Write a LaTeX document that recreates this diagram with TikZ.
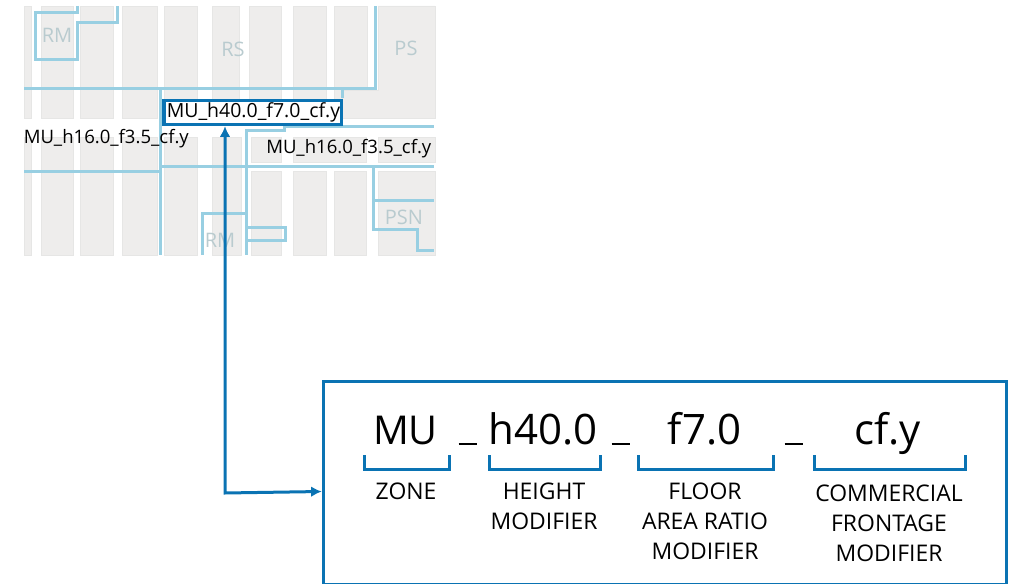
\documentclass[tikz,border=0pt]{standalone}
\usepackage{fontspec}
\setmainfont{Open Sans}
\usetikzlibrary{arrows.meta}
\definecolor{blockgray}{HTML}{EEEDEC}
\definecolor{blockedge}{HTML}{E6E6E5}
\definecolor{zoneline}{HTML}{98CFE2}
\definecolor{zonetext}{HTML}{B9CBCF}
\definecolor{accent}{HTML}{0A73B3}
\tikzset{
  block/.style={fill=blockgray,draw=blockedge,line width=0.5pt},
  zone/.style={draw=zoneline,line width=2.25pt,line join=miter},
  zonelabel/.style={text=zonetext,font=\fontsize{15}{16}\selectfont,inner sep=0pt},
  maplabel/.style={text=black,font=\fontsize{13.9}{15}\selectfont,inner sep=0pt,anchor=west},
  bigtext/.style={text=black,font=\fontsize{31.5}{34}\selectfont,inner sep=0pt,anchor=base},
  sep/.style={draw=black,line width=1.2pt},
  caption/.style={text=black,font=\fontsize{17.2}{22.5}\selectfont,inner sep=0pt,align=center,anchor=north},
  brace/.style={draw=accent,line width=2.25pt},
  link/.style={draw=accent,line width=2.25pt},
  frame/.style={draw=accent,line width=2.25pt}
}
\begin{document}
\begin{tikzpicture}[x=0.75pt,y=-0.75pt]
\useasboundingbox (0,0) rectangle (1010,584);
% top row
\foreach \a/\b in {24/31,41/73,80/113,122/157,164/197,212/239,249/281,293/326,334/367}
  \path[block] (\a,6) rectangle (\b,118);
\path[block] (378,6) -- (435,6) -- (435,118) -- (342,118) -- (342,90) -- (378,90) -- cycle;
% lower row left
\foreach \a/\b in {24/31,41/73,80/113,122/157,164/197,212/241}
  \path[block] (\a,137) rectangle (\b,255);
% lower row right
\foreach \a/\b in {251/281,293/366,378/435}
  \path[block] (\a,137) rectangle (\b,162);
\foreach \a/\b in {251/281,293/326,334/366,378/435}
  \path[block] (\a,171) rectangle (\b,255);
% zone outlines
\draw[zone] (77,6) -- (77,13) -- (35,13) -- (35,60) -- (77,60) -- (77,23) -- (117,23) -- (117,6);
\draw[zone] (24,89) -- (375,89) -- (375,6);
\draw[zone] (160,89) -- (160,255);
\draw[zone] (342,89) -- (342,98);
\draw[zone] (24,171.5) -- (162,171.5);
\draw[zone] (160,167) -- (434,167);
\draw[zone] (246,255) -- (246,130.5) -- (284,130.5) -- (284,127) -- (434,127);
\draw[zone] (202,255) -- (202,214) -- (246,214);
\draw[zone] (246,228) -- (285.5,228) -- (285.5,241) -- (246,241);
\draw[zone] (373.5,167) -- (373.5,230) -- (417,230) -- (417,251) -- (434,251);
\draw[zone] (373.5,201) -- (434,201);
% zone labels
\node[zonelabel] (rm1) at (57,35) {RM};
\node[zonelabel] (rs) at (233,49) {RS};
\node[zonelabel] (ps) at (406,48) {PS};
\node[zonelabel] (psn) at (404,217) {PSN};
\node[zonelabel] (rm2) at (220,240) {RM};
% map labels
\node[maplabel] (left) at (23.5,138.5) {MU\_h16.0\_f3.5\_cf.y};
\node[maplabel] (right) at (266,148.5) {MU\_h16.0\_f3.5\_cf.y};
\node[draw=accent,line width=2.6pt,fill=white,minimum width=133pt,minimum height=18pt,inner sep=0pt,anchor=north west] (sel) at (162.2,98.7) {};
\node[maplabel,font=\fontsize{14.6}{15}\selectfont] (seltext) at (166.5,112.5) {MU\_h40.0\_f7.0\_cf.y};
% detail frame
\node[frame,minimum width=512.3pt,minimum height=152pt,inner sep=0pt,anchor=north west] (detail) at (321.8,380.3) {};
\coordinate (corner) at (225,493);
\draw[link,{Latex[length=8pt,width=8pt]}-{Latex[length=8pt,width=8pt]}] (sel.south -| corner) -- (corner) -- (detail.west |- 0,491.5);
% big row
\node[bigtext,font=\fontsize{29.8}{34}\selectfont] (mu) at (405.5,445) {MU};
\node[bigtext] (h) at (543,445) {h40.0};
\node[bigtext] (f) at (704.5,445) {f7.0};
\node[bigtext] (c) at (887.5,445) {cf.y};
\coordinate (s1a) at (458.5,444); \coordinate (s1b) at (476.5,444);
\coordinate (s2a) at (611.5,444); \coordinate (s2b) at (629.5,444);
\coordinate (s3a) at (784.5,444); \coordinate (s3b) at (802.5,444);
\draw[sep] (s1a) -- (s1b);
\draw[sep] (s2a) -- (s2b);
\draw[sep] (s3a) -- (s3b);
% braces
\draw[brace] (364,455) -- (364,469) -- (449,469) -- (449,455);
\draw[brace] (489,455) -- (489,469) -- (600,469) -- (600,455);
\draw[brace] (638,455) -- (638,469) -- (773,469) -- (773,455);
\draw[brace] (814,455) -- (814,469) -- (965,469) -- (965,455);
% captions
\node[caption] (c1) at (406,483) {ZONE};
\node[caption] (c2) at (544,483) {HEIGHT\\MODIFIER};
\node[caption] (c3) at (705,483) {FLOOR\\AREA RATIO\\MODIFIER};
\node[caption] (c4) at (889,485) {COMMERCIAL\\FRONTAGE\\MODIFIER};
\end{tikzpicture}
\end{document}
